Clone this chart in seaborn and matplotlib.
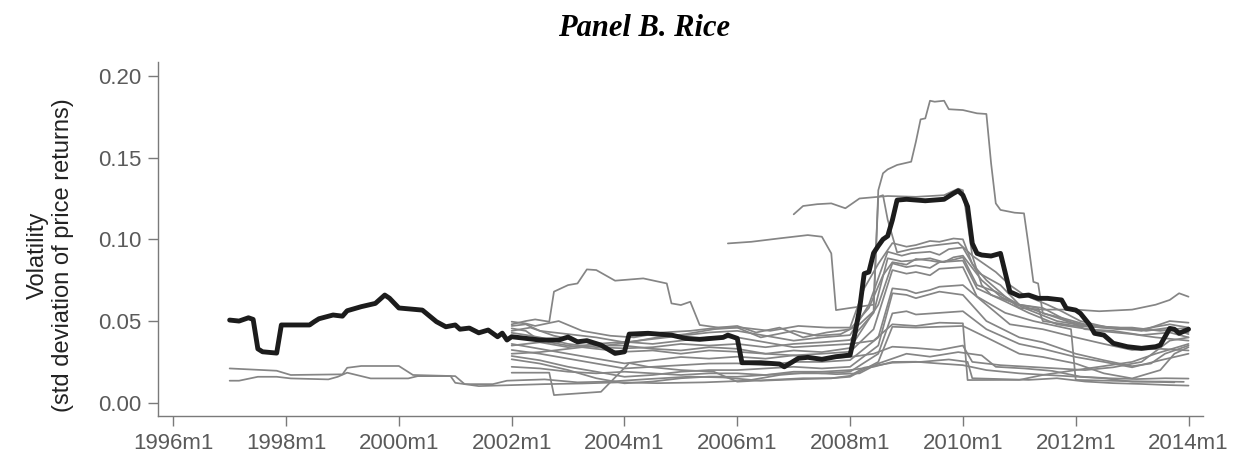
import matplotlib
matplotlib.use("Agg")
import matplotlib.pyplot as plt
import pandas as pd
import seaborn as sns

# Rolling volatility of monthly rice price returns, by market.
# Each series: (Stata-style month, volatility).

average_vol = [
    ("1997m1", .0506), ("1997m3", .0500), ("1997m5", .0520), ("1997m6", .0510),
    ("1997m7", .0330), ("1997m8", .0312), ("1997m11", .0304), ("1997m12", .0476),
    ("1998m6", .0476), ("1998m7", .0496), ("1998m8", .0514), ("1998m11", .0537),
    ("1999m1", .0530), ("1999m2", .0563), ("1999m5", .0588), ("1999m8", .0608),
    ("1999m10", .0659), ("1999m11", .0640), ("2000m1", .0580), ("2000m6", .0567),
    ("2000m9", .0496), ("2000m11", .0465), ("2001m1", .0476), ("2001m2", .0450),
    ("2001m4", .0457), ("2001m6", .0428), ("2001m8", .0445), ("2001m10", .0404),
    ("2001m11", .0426), ("2001m12", .0384), ("2002m1", .0404), ("2002m4", .0394),
    ("2002m7", .0384), ("2002m11", .0384), ("2003m1", .0402), ("2003m3", .0373),
    ("2003m5", .0380), ("2003m8", .0353), ("2003m11", .0302), ("2004m1", .0312),
    ("2004m2", .0420), ("2004m6", .0425), ("2004m11", .0414), ("2005m2", .0394),
    ("2005m5", .0388), ("2005m10", .0400), ("2005m11", .0414), ("2006m1", .0394),
    ("2006m2", .0245), ("2006m6", .0245), ("2006m10", .0237), ("2006m11", .0220),
    ("2007m2", .0272), ("2007m4", .0278), ("2007m7", .0266), ("2007m10", .0282),
    ("2008m1", .0292), ("2008m2", .0420), ("2008m3", .0570), ("2008m4", .0790),
    ("2008m5", .0800), ("2008m6", .0916), ("2008m7", .0960), ("2008m8", .1000),
    ("2008m9", .1020), ("2008m10", .1118), ("2008m11", .1240), ("2009m1", .1245),
    ("2009m5", .1236), ("2009m9", .1245), ("2009m11", .1281), ("2009m12", .1297),
    ("2010m1", .1270), ("2010m2", .1200), ("2010m3", .0975), ("2010m4", .0914),
    ("2010m5", .0904), ("2010m7", .0898), ("2010m9", .0914), ("2010m11", .0679),
    ("2011m1", .0653), ("2011m3", .0659), ("2011m5", .0639), ("2011m7", .0639),
    ("2011m10", .0629), ("2011m11", .0578), ("2012m1", .0567), ("2012m2", .0547),
    ("2012m4", .0476), ("2012m5", .0425), ("2012m7", .0414), ("2012m9", .0364),
    ("2012m12", .0343), ("2013m3", .0333), ("2013m6", .0343), ("2013m7", .0353),
    ("2013m8", .0404), ("2013m9", .0455), ("2013m10", .0450), ("2013m11", .0425),
    ("2014m1", .0450),
]

market_01 = [
    ("1997m1", .0210), ("1997m11", .0196), ("1998m2", .0170), ("1999m1", .0174),
    ("1999m2", .0214), ("1999m5", .0225), ("2000m1", .0225), ("2000m4", .0170),
    ("2001m1", .0163), ("2001m3", .0114), ("2001m9", .0114), ("2001m12", .0135),
    ("2002m8", .0143), ("2003m3", .0125), ("2003m10", .0130), ("2004m6", .0145),
    ("2005m3", .0160), ("2005m10", .0155), ("2006m6", .0135), ("2007m3", .0145),
    ("2007m9", .0150), ("2008m1", .0165), ("2008m4", .0215), ("2008m10", .0245),
    ("2009m4", .0250), ("2009m10", .0265), ("2010m2", .0250), ("2010m3", .0150),
    ("2010m9", .0145), ("2011m3", .0140), ("2011m9", .0150), ("2012m3", .0130),
    ("2012m9", .0120), ("2013m3", .0115), ("2013m9", .0108), ("2014m1", .0105),
]
market_02 = [
    ("1997m1", .0135), ("1997m3", .0135), ("1997m7", .0159), ("1997m11", .0159),
    ("1998m2", .0149), ("1998m10", .0143), ("1998m12", .0159), ("1999m2", .0184),
    ("1999m4", .0170), ("1999m7", .0149), ("2000m3", .0149), ("2000m5", .0163),
    ("2000m12", .0163), ("2001m1", .0122), ("2001m6", .0102), ("2002m1", .0108),
    ("2002m8", .0114), ("2003m4", .0118), ("2003m12", .0125), ("2004m8", .0120),
    ("2005m6", .0125), ("2006m3", .0135), ("2006m10", .0170), ("2007m4", .0185),
    ("2007m10", .0175), ("2008m3", .0180), ("2008m7", .0240), ("2009m1", .0300),
    ("2009m6", .0282), ("2009m12", .0310), ("2010m5", .0290), ("2010m8", .0220),
    ("2011m2", .0210), ("2011m8", .0195), ("2012m2", .0160), ("2012m8", .0150),
    ("2013m2", .0145), ("2013m8", .0150), ("2014m1", .0148),
]
market_03 = [
    ("2002m1", .0480), ("2002m4", .0500), ("2002m6", .0510), ("2002m9", .0496),
    ("2002m10", .0680), ("2003m1", .0720), ("2003m3", .0730), ("2003m5", .0816),
    ("2003m7", .0812), ("2003m11", .0747), ("2004m5", .0761), ("2004m10", .0730),
    ("2004m11", .0608), ("2005m1", .0598), ("2005m3", .0618), ("2005m5", .0476),
    ("2005m9", .0460), ("2006m1", .0470), ("2006m5", .0430), ("2006m10", .0460),
    ("2007m3", .0400), ("2007m8", .0430), ("2008m1", .0450), ("2008m5", .0580),
    ("2008m8", .0780), ("2008m10", .0860), ("2009m1", .0845), ("2009m3", .0880),
    ("2009m6", .0870), ("2009m8", .0860), ("2009m11", .0875), ("2010m1", .0890),
    ("2010m4", .0720), ("2010m8", .0680), ("2011m1", .0600), ("2011m6", .0550),
    ("2011m11", .0500), ("2012m4", .0470), ("2012m10", .0460), ("2013m4", .0440),
    ("2013m9", .0460), ("2014m1", .0420),
]
market_04 = [
    ("2002m1", .0440), ("2002m5", .0460), ("2002m10", .0410), ("2003m3", .0380),
    ("2003m9", .0350), ("2004m2", .0370), ("2004m8", .0400), ("2005m2", .0420),
    ("2005m8", .0450), ("2006m1", .0460), ("2006m6", .0400), ("2007m1", .0440),
    ("2007m6", .0410), ("2007m11", .0420), ("2008m3", .0480), ("2008m6", .0560),
    ("2008m7", .1300), ("2008m8", .1404), ("2008m9", .1428), ("2008m11", .1455),
    ("2009m2", .1475), ("2009m3", .1597), ("2009m4", .1734), ("2009m5", .1740),
    ("2009m6", .1848), ("2009m7", .1842), ("2009m9", .1848), ("2009m10", .1796),
    ("2010m1", .1791), ("2010m4", .1771), ("2010m6", .1767), ("2010m7", .1465),
    ("2010m8", .1220), ("2010m9", .1180), ("2010m12", .1163), ("2011m2", .1159),
    ("2011m3", .0955), ("2011m4", .0740), ("2011m5", .0730), ("2011m6", .0547),
    ("2011m10", .0520), ("2012m3", .0480), ("2012m9", .0460), ("2013m3", .0450),
    ("2013m9", .0480), ("2014m1", .0460),
]
market_05 = [
    ("2002m1", .0496), ("2002m4", .0485), ("2002m6", .0470), ("2002m11", .0500),
    ("2003m4", .0440), ("2003m10", .0410), ("2004m3", .0400), ("2004m9", .0430),
    ("2005m3", .0440), ("2005m9", .0460), ("2006m2", .0460), ("2006m8", .0440),
    ("2007m2", .0470), ("2007m8", .0460), ("2008m1", .0460), ("2008m4", .0700),
    ("2008m7", .0850), ("2008m10", .0977), ("2009m1", .0955), ("2009m3", .0965),
    ("2009m6", .0990), ("2009m8", .0985), ("2009m11", .1005), ("2010m1", .1000),
    ("2010m3", .0850), ("2010m6", .0750), ("2010m10", .0650), ("2011m1", .0580),
    ("2011m6", .0570), ("2012m1", .0570), ("2012m6", .0560), ("2013m1", .0570),
    ("2013m6", .0600), ("2013m9", .0629), ("2013m11", .0670), ("2014m1", .0649),
]
market_06 = [
    ("2002m1", .0470), ("2002m4", .0480), ("2002m7", .0440), ("2003m1", .0420),
    ("2003m7", .0400), ("2004m1", .0370), ("2004m7", .0390), ("2005m1", .0410),
    ("2005m7", .0430), ("2006m1", .0440), ("2006m7", .0410), ("2007m1", .0380),
    ("2007m7", .0400), ("2008m1", .0414), ("2008m5", .0600), ("2008m9", .0924),
    ("2008m12", .0900), ("2009m2", .0915), ("2009m6", .0924), ("2009m8", .0905),
    ("2009m10", .0940), ("2010m1", .0950), ("2010m4", .0800), ("2010m9", .0720),
    ("2011m1", .0600), ("2011m6", .0580), ("2011m10", .0520), ("2012m3", .0450),
    ("2012m9", .0440), ("2013m3", .0414), ("2013m9", .0430), ("2014m1", .0400),
]
market_07 = [
    ("2002m1", .0428), ("2002m4", .0415), ("2002m7", .0400), ("2003m1", .0360),
    ("2003m7", .0340), ("2004m1", .0333), ("2004m7", .0340), ("2005m1", .0360),
    ("2005m7", .0350), ("2006m1", .0360), ("2006m7", .0340), ("2007m1", .0360),
    ("2007m7", .0370), ("2008m1", .0384), ("2008m6", .0550), ("2008m9", .0884),
    ("2008m12", .0865), ("2009m2", .0870), ("2009m6", .0884), ("2009m9", .0860),
    ("2009m11", .0890), ("2010m1", .0900), ("2010m5", .0750), ("2010m9", .0650),
    ("2011m2", .0580), ("2011m9", .0500), ("2012m3", .0470), ("2012m10", .0450),
    ("2013m4", .0450), ("2013m10", .0440), ("2014m1", .0430),
]
market_08 = [
    ("2002m1", .0455), ("2002m4", .0440), ("2002m7", .0380), ("2003m1", .0350),
    ("2003m7", .0330), ("2004m1", .0312), ("2004m7", .0320), ("2005m1", .0300),
    ("2005m7", .0320), ("2006m1", .0312), ("2006m7", .0300), ("2007m1", .0320),
    ("2007m7", .0310), ("2008m1", .0335), ("2008m7", .0600), ("2008m10", .0853),
    ("2009m1", .0830), ("2009m3", .0840), ("2009m6", .0825), ("2009m8", .0860),
    ("2010m1", .0870), ("2010m4", .0700), ("2010m10", .0620), ("2011m3", .0550),
    ("2011m9", .0480), ("2012m6", .0440), ("2013m1", .0420), ("2013m6", .0400),
    ("2014m1", .0380),
]
market_09 = [
    ("2002m1", .0360), ("2002m7", .0330), ("2003m1", .0300), ("2003m7", .0270),
    ("2004m1", .0241), ("2004m7", .0260), ("2005m1", .0280), ("2005m7", .0270),
    ("2006m1", .0282), ("2006m7", .0270), ("2007m1", .0290), ("2007m7", .0300),
    ("2008m1", .0312), ("2008m6", .0450), ("2008m10", .0812), ("2009m1", .0790),
    ("2009m3", .0800), ("2009m6", .0780), ("2009m8", .0820), ("2010m1", .0830),
    ("2010m4", .0650), ("2010m10", .0550), ("2011m4", .0500), ("2011m12", .0450),
    ("2012m1", .0140), ("2012m8", .0135), ("2013m3", .0130), ("2013m10", .0125),
]
market_10 = [
    ("2002m1", .0323), ("2002m7", .0300), ("2003m1", .0270), ("2003m7", .0240),
    ("2004m1", .0210), ("2004m7", .0220), ("2005m1", .0230), ("2005m7", .0240),
    ("2006m1", .0241), ("2006m7", .0230), ("2007m1", .0250), ("2007m7", .0250),
    ("2008m1", .0261), ("2008m7", .0400), ("2008m10", .0700), ("2009m1", .0690),
    ("2009m3", .0670), ("2009m6", .0690), ("2009m8", .0710), ("2010m1", .0720),
    ("2010m6", .0600), ("2010m11", .0480), ("2011m6", .0450), ("2012m1", .0400),
    ("2012m7", .0360), ("2013m1", .0323), ("2013m7", .0330), ("2014m1", .0320),
]
market_11 = [
    ("2002m1", .0286), ("2002m7", .0260), ("2003m1", .0220), ("2003m7", .0190),
    ("2004m1", .0159), ("2004m7", .0170), ("2005m1", .0190), ("2005m7", .0200),
    ("2006m1", .0200), ("2006m7", .0210), ("2007m1", .0220), ("2007m7", .0210),
    ("2008m1", .0220), ("2008m7", .0350), ("2008m10", .0670), ("2009m1", .0660),
    ("2009m3", .0640), ("2009m8", .0680), ("2010m1", .0660), ("2010m6", .0500),
    ("2011m1", .0400), ("2011m6", .0370), ("2012m1", .0300), ("2012m7", .0260),
    ("2013m1", .0224), ("2013m5", .0240), ("2013m8", .0300), ("2014m1", .0350),
]
market_12 = [
    ("2002m1", .0266), ("2002m7", .0240), ("2003m1", .0200), ("2003m7", .0150),
    ("2004m1", .0119), ("2004m7", .0130), ("2005m1", .0150), ("2005m7", .0160),
    ("2006m1", .0159), ("2006m7", .0170), ("2007m1", .0180), ("2007m7", .0180),
    ("2008m1", .0190), ("2008m7", .0300), ("2008m10", .0547), ("2009m1", .0560),
    ("2009m3", .0540), ("2009m8", .0550), ("2010m1", .0560), ("2010m6", .0450),
    ("2011m1", .0360), ("2011m6", .0330), ("2012m1", .0280), ("2012m7", .0250),
    ("2013m1", .0217), ("2013m7", .0260), ("2014m1", .0300),
]
market_13 = [
    ("2002m1", .0184), ("2002m9", .0184), ("2002m10", .0047), ("2003m8", .0067),
    ("2004m2", .0243), ("2004m6", .0220), ("2005m1", .0200), ("2005m8", .0190),
    ("2006m1", .0129), ("2006m8", .0140), ("2007m3", .0150), ("2007m9", .0150),
    ("2008m1", .0159), ("2008m7", .0250), ("2008m10", .0465), ("2009m3", .0460),
    ("2009m8", .0465), ("2010m1", .0470), ("2010m6", .0400), ("2011m1", .0300),
    ("2011m6", .0280), ("2012m1", .0240), ("2012m7", .0180), ("2013m1", .0149),
    ("2013m7", .0200), ("2013m10", .0300), ("2014m1", .0340),
]
market_14 = [
    ("2005m11", .0975), ("2006m4", .0985), ("2006m10", .1006), ("2007m4", .1026),
    ("2007m7", .1016), ("2007m9", .0914), ("2007m10", .0567), ("2008m1", .0580),
    ("2008m6", .0600), ("2008m7", .1260), ("2008m8", .1270), ("2008m9", .1120),
    ("2008m11", .0920), ("2009m2", .0940), ("2009m6", .0960), ("2009m12", .0980),
    ("2010m3", .0900), ("2010m5", .0720), ("2010m7", .0660), ("2011m1", .0600),
    ("2011m5", .0580), ("2011m6", .0500), ("2012m1", .0470), ("2012m7", .0460),
    ("2013m1", .0460), ("2013m7", .0440), ("2014m1", .0460),
]
market_15 = [
    ("2002m1", .0350), ("2002m7", .0370), ("2003m1", .0340), ("2003m7", .0360),
    ("2004m1", .0373), ("2004m7", .0360), ("2005m1", .0380), ("2005m7", .0400),
    ("2006m1", .0400), ("2006m7", .0370), ("2007m1", .0340), ("2007m7", .0350),
    ("2008m1", .0360), ("2008m6", .0380), ("2008m10", .0480), ("2009m3", .0470),
    ("2009m8", .0490), ("2010m1", .0486), ("2010m2", .0139), ("2011m1", .0140),
    ("2011m6", .0170), ("2012m1", .0200), ("2012m6", .0220), ("2013m1", .0250),
    ("2013m6", .0300), ("2014m1", .0360),
]
market_16 = [
    ("2002m1", .0300), ("2002m7", .0310), ("2003m1", .0330), ("2003m7", .0350),
    ("2004m1", .0350), ("2004m7", .0330), ("2005m1", .0320), ("2005m7", .0340),
    ("2006m1", .0330), ("2006m7", .0300), ("2007m1", .0290), ("2007m7", .0270),
    ("2008m1", .0280), ("2008m6", .0300), ("2008m10", .0343), ("2009m3", .0335),
    ("2009m8", .0323), ("2010m1", .0350), ("2010m3", .0250), ("2010m9", .0230),
    ("2011m3", .0220), ("2011m9", .0210), ("2012m3", .0200), ("2012m9", .0217),
    ("2013m3", .0250), ("2013m9", .0380), ("2014m1", .0400),
]
market_17 = [
    ("2002m1", .0220), ("2002m7", .0210), ("2003m1", .0190), ("2003m7", .0180),
    ("2004m1", .0190), ("2004m7", .0180), ("2005m1", .0170), ("2005m7", .0180),
    ("2006m1", .0180), ("2006m7", .0170), ("2007m1", .0190), ("2007m7", .0190),
    ("2008m1", .0200), ("2008m6", .0220), ("2008m10", .0250), ("2009m3", .0251),
    ("2009m8", .0240), ("2010m1", .0230), ("2010m6", .0200), ("2011m1", .0180),
    ("2011m7", .0170), ("2012m1", .0160), ("2012m7", .0150), ("2013m1", .0129),
    ("2013m7", .0130), ("2013m12", .0128),
]
market_18 = [
    ("2007m1", .1153), ("2007m3", .1204), ("2007m6", .1215), ("2007m9", .1220),
    ("2007m12", .1190), ("2008m3", .1250), ("2008m9", .1265), ("2009m3", .1260),
    ("2009m9", .1270), ("2009m12", .1310), ("2010m1", .1300), ("2010m2", .1100),
    ("2010m3", .0900), ("2010m5", .0860), ("2010m8", .0800), ("2010m11", .0720),
    ("2011m2", .0660), ("2011m7", .0600), ("2011m10", .0560), ("2012m2", .0500),
    ("2012m8", .0460), ("2013m3", .0440), ("2013m9", .0500), ("2014m1", .0490),
]

markets = [
    market_01, market_02, market_03, market_04, market_05, market_06,
    market_07, market_08, market_09, market_10, market_11, market_12,
    market_13, market_14, market_15, market_16, market_17, market_18,
]

tick_years = list(range(1996, 2015, 2))
tick_labels = [f"{y}m1" for y in tick_years]
y_ticks = [0.0, 0.05, 0.10, 0.15, 0.20]


def month_to_year(label):
    year, month = label.split("m")
    return int(year) + (int(month) - 1) / 12.0


def to_frame(series, name):
    return pd.DataFrame({
        "year": [month_to_year(d) for d, _ in series],
        "vol": [v for _, v in series],
        "market": name,
    })


markets_df = pd.concat(
    [to_frame(s, f"m{i + 1:02d}") for i, s in enumerate(markets)],
    ignore_index=True,
)
average_df = to_frame(average_vol, "average")

sns.set_style("ticks")
plt.rcParams["font.family"] = ["Liberation Sans", "DejaVu Sans"]

fig = plt.figure(figsize=(12.36, 4.61), dpi=100)
ax = fig.add_axes([0.1278, 0.0976, 0.8455, 0.7679])

sns.lineplot(data=markets_df, x="year", y="vol", units="market",
             estimator=None, color="#858585", linewidth=1.25, ax=ax,
             legend=False)
sns.lineplot(data=average_df, x="year", y="vol", color="#1c1c1c",
             linewidth=3.5, ax=ax, legend=False)

ax.set_xlim(1995.729, 2014.257)
ax.set_ylim(-0.0081, 0.2085)
ax.set_xticks(tick_years)
ax.set_xticklabels(tick_labels)
ax.set_yticks(y_ticks)
ax.set_yticklabels([f"{t:.2f}" for t in y_ticks])

for side in ("top", "right"):
    ax.spines[side].set_visible(False)
for side in ("left", "bottom"):
    ax.spines[side].set_color("#7a7a7a")
    ax.spines[side].set_linewidth(1.0)

ax.tick_params(axis="both", direction="out", length=7, width=1.0,
               color="#7a7a7a", labelcolor="#5a5a5a", labelsize=16, pad=5)
ax.set_xlabel("")
ax.set_ylabel("Volatility\n(std deviation of price returns)", fontsize=17,
              color="#222222", linespacing=1.2)
ax.yaxis.set_label_coords(-0.080, 0.455)

fig.text(0.521, 1 - 28 / 461, "Panel B. Rice", ha="center", va="center",
         fontfamily="Liberation Serif", fontweight="bold", fontstyle="italic",
         fontsize=22, color="#000000")

fig.savefig("out.png", dpi=100)
